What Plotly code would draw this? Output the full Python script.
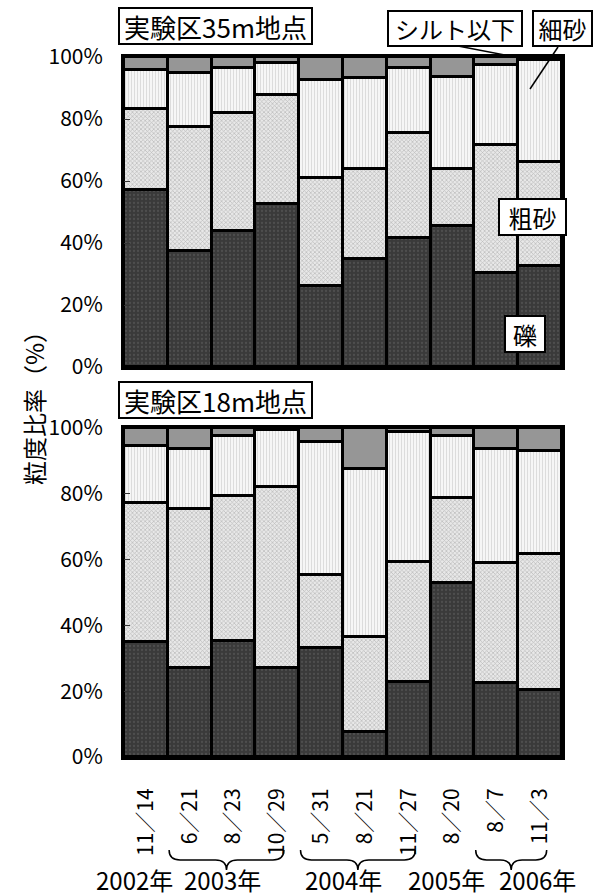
import plotly.graph_objects as go

# Sampling dates (x axis) and grain-size composition (%) at two points
dates = ["11／14", "6／21", "8／23", "10／29", "5／31", "8／21", "11／27", "8／20", "8／7", "11／3"]
pct_ticks = [0, 20, 40, 60, 80, 100]
pct_labels = ["0%", "20%", "40%", "60%", "80%", "100%"]

# 実験区35m地点
gravel_35 = [57.1, 37.4, 43.9, 52.5, 26.2, 34.8, 41.7, 45.4, 30.4, 32.7]
coarse_35 = [26.1, 40.0, 37.9, 35.2, 34.7, 29.0, 33.9, 18.4, 41.2, 33.3]
fine_35 = [12.6, 17.3, 14.5, 10.5, 31.7, 29.3, 20.7, 29.8, 25.8, 33.0]
silt_35 = [4.2, 5.3, 3.7, 1.8, 7.4, 6.9, 3.7, 6.4, 2.6, 1.0]

# 実験区18m地点
gravel_18 = [35.0, 27.0, 35.3, 27.1, 33.0, 7.5, 22.9, 52.8, 22.4, 20.4]
coarse_18 = [42.3, 48.3, 44.1, 55.1, 22.3, 29.1, 36.5, 25.8, 36.5, 41.3]
fine_18 = [17.2, 18.4, 18.2, 17.2, 40.4, 50.8, 39.5, 19.0, 34.7, 31.4]
silt_18 = [5.5, 6.3, 2.4, 0.6, 4.3, 12.6, 1.1, 2.4, 6.4, 6.9]

# year groups: (label, label position, first index, last index) - braces only for multi-date years
years = [("2002年", -0.27, None, None),
         ("2003年", 1.76, 1, 3),
         ("2004年", 4.52, 4, 6),
         ("2005年", 6.87, None, None),
         ("2006年", 8.93, 8, 9)]

FONT = "Noto Sans CJK JP"
xpos = list(range(len(dates)))

styles = {
    "礫": dict(color="#3a3a3a", pattern=dict(shape=".", bgcolor="#3a3a3a", fgcolor="#626262", size=4, solidity=0.25)),
    "粗砂": dict(color="#e0e0e0", pattern=dict(shape="x", bgcolor="#e8e8e8", fgcolor="#8c8c8c", size=3, solidity=0.4)),
    "細砂": dict(color="#f4f4f4", pattern=dict(shape="|", bgcolor="#f6f6f6", fgcolor="#bdbdbd", size=3, solidity=0.3)),
    "シルト以下": dict(color="#969696"),
}

fig = go.Figure()
for (xa, ya, series) in [("x", "y", [gravel_35, coarse_35, fine_35, silt_35]),
                         ("x2", "y2", [gravel_18, coarse_18, fine_18, silt_18])]:
    for name, vals in zip(["礫", "粗砂", "細砂", "シルト以下"], series):
        marker = dict(styles[name])
        marker["line"] = dict(color="black", width=3)
        fig.add_trace(go.Bar(x=xpos, y=vals, name=name, marker=marker,
                             xaxis=xa, yaxis=ya, showlegend=False, width=1.0))

axis_common = dict(showline=True, linecolor="black", linewidth=3, mirror=True,
                   showgrid=False, zeroline=False)
yax = dict(axis_common, range=[0, 100], tickmode="array", tickvals=pct_ticks, ticktext=pct_labels,
           ticks="inside", ticklen=6, tickcolor="#333", tickwidth=1,
           tickfont=dict(family=FONT, size=21, color="black"), ticklabelstandoff=14)

fig.update_layout(
    width=601, height=896,
    margin=dict(l=124, r=39, t=57, b=139),
    paper_bgcolor="white", plot_bgcolor="white",
    barmode="stack", bargap=0,
    font=dict(family=FONT, color="black"),
    xaxis=dict(axis_common, domain=[0, 1], range=[-0.5, 9.5], anchor="y",
               showticklabels=False, ticks=""),
    yaxis=dict(yax, domain=[0.557, 1.0], anchor="x"),
    xaxis2=dict(axis_common, domain=[0, 1], range=[-0.5, 9.5], anchor="y2",
                tickmode="array", tickvals=xpos, ticktext=dates, tickangle=-90, ticks="",
                tickfont=dict(family=FONT, size=21, color="black"), ticklabelstandoff=20),
    yaxis2=dict(yax, domain=[0.0, 0.47], anchor="x2"),
)

def box(text, x, y, w, h, size):
    fig.add_annotation(text=text, x=x, y=y, xref="paper", yref="paper",
                       xanchor="center", yanchor="middle", showarrow=False,
                       width=w, height=h, bgcolor="white", bordercolor="black",
                       borderwidth=2, borderpad=0,
                       font=dict(family=FONT, size=size, color="black"))

# panel titles and layer labels
box("実験区35m地点", 0.2089, 1.0443, 191, 34, 26)
box("実験区18m地点", 0.2089, 0.5093, 191, 34, 26)
box("シルト以下", 0.7557, 1.0407, 132, 33, 24)
box("細砂", 1.0011, 1.0407, 57, 33, 24)
box("粗砂", 0.9326, 0.7714, 65, 34, 24)
box("礫", 0.9155, 0.6043, 38, 34, 24)

# leader lines from the labels into the bars
def px2paper(px, py):
    return (px - 124) / 438, (757 - py) / 700

for (a, b) in [((458, 46), (515, 57)), ((558, 47), (530, 89))]:
    x0, y0 = px2paper(*a)
    x1, y1 = px2paper(*b)
    fig.add_shape(type="line", xref="paper", yref="paper", x0=x0, y0=y0, x1=x1, y1=y1,
                  line=dict(color="black", width=1.5))

# y axis title
fig.add_annotation(text="粒度比率（%）", x=(33 - 124) / 438, y=(757 - 402) / 700,
                   xref="paper", yref="paper", showarrow=False, textangle=-90,
                   xanchor="center", yanchor="middle",
                   font=dict(family=FONT, size=24, color="black"))

# year labels with curly braces under grouped dates
ytop, ymid, ybot = -0.1329, -0.1471, -0.1614
for label, xc, i0, i1 in years:
    fig.add_annotation(text=label, x=xc, y=(757 - 879) / 700, xref="x2", yref="paper",
                       showarrow=False, xanchor="center", yanchor="middle",
                       font=dict(family=FONT, size=24, color="black"))
    if i0 is not None:
        x0, x1 = i0 - 0.47, i1 + 0.15
        tip = (x0 + x1) / 2
        d = 0.25
        path = (f"M {x0},{ytop} Q {x0},{ymid} {x0 + d},{ymid} L {tip - d},{ymid} "
                f"Q {tip},{ymid} {tip},{ybot} Q {tip},{ymid} {tip + d},{ymid} "
                f"L {x1 - d},{ymid} Q {x1},{ymid} {x1},{ytop}")
        fig.add_shape(type="path", xref="x2", yref="paper", path=path,
                      line=dict(color="black", width=1.5))

fig.write_html("out.html")
